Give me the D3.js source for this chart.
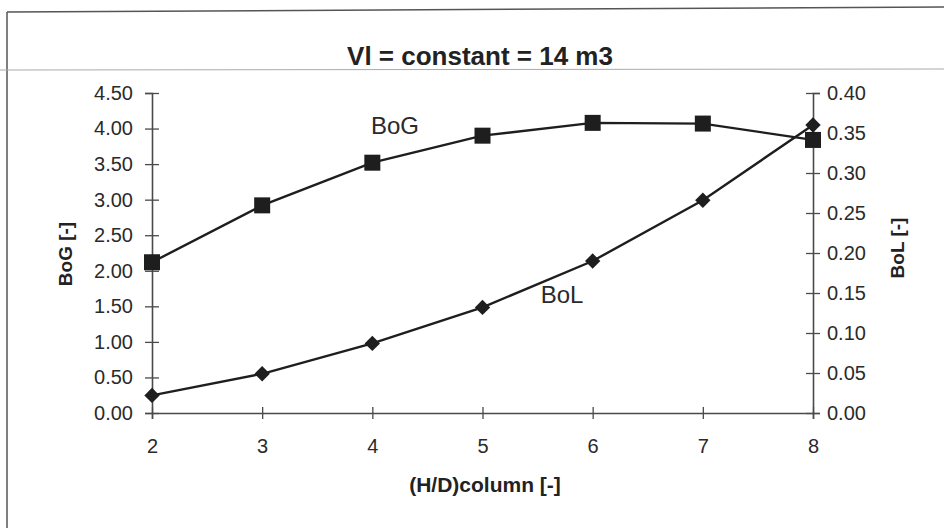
<!DOCTYPE html>
<html>
<head>
<meta charset="utf-8">
<script src="https://cdn.jsdelivr.net/npm/d3@7/dist/d3.min.js"></script>
<style>
  body { margin: 0; background: #fff; }
  svg { display: block; font-family: "Liberation Sans", Arial, sans-serif; }
</style>
</head>
<body>
<svg id="chart" width="944" height="528"></svg>
<script>
// H/D ratio of the column
const hdRatio = [2, 3, 4, 5, 6, 7, 8];
// left axis series
const bogValues = [2.12, 2.92, 3.52, 3.90, 4.08, 4.07, 3.84];
// right axis series
const bolValues = [0.022, 0.049, 0.087, 0.132, 0.190, 0.266, 0.360];

const leftTicks = [0, 0.5, 1, 1.5, 2, 2.5, 3, 3.5, 4, 4.5];
const rightTicks = [0, 0.05, 0.1, 0.15, 0.2, 0.25, 0.3, 0.35, 0.4];

const INK = "#1e1e1e";
const AXIS = "#4a4a4a";

const svg = d3.select("#chart");

// page frame (left + top edge of the boxed figure) and the scanner line
svg.append("line").attr("x1", 7).attr("y1", 12).attr("x2", 7).attr("y2", 528)
  .attr("stroke", "#555").attr("stroke-width", 1.5);
svg.append("line").attr("x1", 7).attr("y1", 12).attr("x2", 944).attr("y2", 7)
  .attr("stroke", "#555").attr("stroke-width", 1.5);
svg.append("line").attr("x1", 0).attr("y1", 70).attr("x2", 944).attr("y2", 69)
  .attr("stroke", "#aaa").attr("stroke-width", 1);

const x = d3.scaleLinear().domain([2, 8]).range([152, 813]);
const yL = d3.scaleLinear().domain([0, 4.5]).range([413, 93]);
const yR = d3.scaleLinear().domain([0, 0.4]).range([413, 93]);

// axes
const gx = svg.append("g").attr("transform", `translate(0,${yL(0)})`)
  .call(d3.axisBottom(x).tickValues(hdRatio).tickFormat(d3.format("d"))
    .tickSizeOuter(0).tickSize(6).tickPadding(20));
gx.selectAll(".tick line").attr("y1", -6);

const gl = svg.append("g").attr("transform", `translate(${x(2)},0)`)
  .call(d3.axisLeft(yL).tickValues(leftTicks).tickFormat(d3.format(".2f"))
    .tickSizeOuter(0).tickSize(7).tickPadding(12));
gl.selectAll(".tick line").attr("x1", 7);

const gr = svg.append("g").attr("transform", `translate(${x(8)},0)`)
  .call(d3.axisRight(yR).tickValues(rightTicks).tickFormat(d3.format(".2f"))
    .tickSizeOuter(0).tickSize(7).tickPadding(7));
gr.selectAll(".tick line").attr("x1", -7);

[gx, gl, gr].forEach(g => {
  g.select(".domain").attr("stroke", AXIS).attr("stroke-width", 1.6);
  g.selectAll(".tick line").attr("stroke", AXIS).attr("stroke-width", 1.3);
  g.selectAll(".tick text").attr("fill", "#2a2a2a")
    .style("font-size", "20px");
});

// series lines
const lineL = d3.line().x((d, i) => x(hdRatio[i])).y(d => yL(d));
const lineR = d3.line().x((d, i) => x(hdRatio[i])).y(d => yR(d));

svg.append("path").datum(bolValues).attr("d", lineR)
  .attr("fill", "none").attr("stroke", INK).attr("stroke-width", 2.4);
svg.append("path").datum(bogValues).attr("d", lineL)
  .attr("fill", "none").attr("stroke", INK).attr("stroke-width", 2.4);

// markers
svg.append("g").selectAll("rect").data(bogValues).join("rect")
  .attr("x", (d, i) => x(hdRatio[i]) - 8).attr("y", d => yL(d) - 8)
  .attr("width", 16).attr("height", 16).attr("fill", INK);

svg.append("g").selectAll("path").data(bolValues).join("path")
  .attr("d", d3.symbol(d3.symbolSquare, 118))
  .attr("transform", (d, i) => `translate(${x(hdRatio[i])},${yR(d)}) rotate(45)`)
  .attr("fill", INK);

// texts
svg.append("text").attr("x", 480).attr("y", 65).attr("text-anchor", "middle")
  .style("font-size", "26px").style("font-weight", "bold").attr("fill", "#222")
  .text("Vl = constant = 14 m3");

svg.append("text").attr("x", 395).attr("y", 134).attr("text-anchor", "middle")
  .style("font-size", "24px").attr("fill", "#2a2a2a").text("BoG");
svg.append("text").attr("x", 562).attr("y", 303).attr("text-anchor", "middle")
  .style("font-size", "24px").attr("fill", "#2a2a2a").text("BoL");

svg.append("text").attr("x", 485).attr("y", 492).attr("text-anchor", "middle")
  .style("font-size", "21px").style("font-weight", "bold").attr("fill", "#222")
  .text("(H/D)column [-]");

svg.append("text").attr("transform", "translate(72,254) rotate(-90)")
  .attr("text-anchor", "middle")
  .style("font-size", "19px").style("font-weight", "bold").attr("fill", "#222")
  .text("BoG [-]");

svg.append("text").attr("transform", "translate(904,248) rotate(-90)")
  .attr("text-anchor", "middle")
  .style("font-size", "19px").style("font-weight", "bold").attr("fill", "#222")
  .text("BoL [-]");
</script>
</body>
</html>
